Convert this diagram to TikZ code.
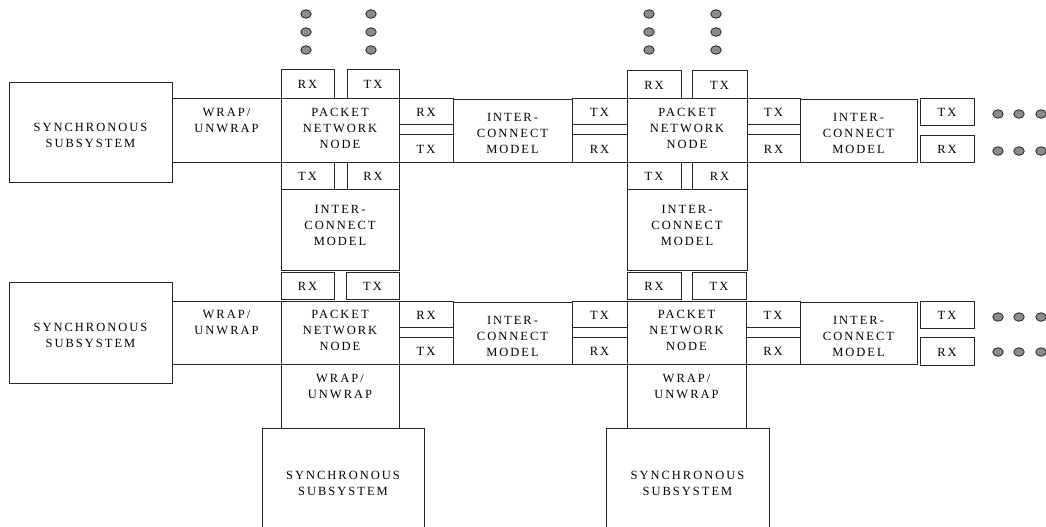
\documentclass[tikz,border=0pt]{standalone}
\usepackage{fontspec}
\setmainfont{Liberation Serif}[LetterSpace=16]
\usetikzlibrary{fit,calc,shapes.geometric}
\newcommand\bx[7]{%
  \node[box, fit={(#2,#3) (#4,#5)}] (#1) {};
  \node[lbl] (#1t) at ($(#1.center)+(0,#7)$) {#6};}
\begin{document}
\begin{tikzpicture}[x=1pt,y=-1pt,
  box/.style={draw=black!85, line width=0.9pt, inner sep=0pt},
  lbl/.style={align=center, inner sep=0pt, text=black,
    font=\fontsize{12.5}{16}\selectfont},
  dot/.style={ellipse, draw=black!85, fill=black!45, line width=0.8pt,
    minimum width=10.5pt, minimum height=8.5pt, inner sep=0pt}]
\useasboundingbox (0,0) rectangle (1046,527);
% ---------- row 1 ----------
\bx{syncA}{9}{82}{172}{182}{SYNCHRONOUS\\SUBSYSTEM}{3}
\bx{wrapA}{172}{98}{281}{162}{WRAP/\\UNWRAP}{-10}
\bx{pnA}{281}{98}{399}{162}{PACKET\\NETWORK\\NODE}{-2}
\bx{rxtA}{281}{69}{334}{98}{RX}{1}
\bx{txtA}{347}{69}{399}{98}{TX}{1}
\bx{txbA}{281}{162}{334}{189}{TX}{1}
\bx{rxbA}{347}{162}{399}{189}{RX}{1}
\bx{icvA}{281}{189}{399}{270}{INTER-\\CONNECT\\MODEL}{-4.5}
\bx{rxrA}{399}{98}{453}{124}{RX}{1}
\bx{txrA}{399}{134}{453}{162}{TX}{1}
\bx{ichA}{453}{99}{572}{162}{INTER-\\CONNECT\\MODEL}{3}
\bx{txlB}{572}{98}{627}{124}{TX}{1}
\bx{rxlB}{572}{134}{627}{162}{RX}{1}
\bx{pnB}{627}{98}{747}{162}{PACKET\\NETWORK\\NODE}{-2}
\bx{rxtB}{627}{70}{681}{98}{RX}{1}
\bx{txtB}{692}{70}{747}{98}{TX}{1}
\bx{txbB}{627}{162}{681}{189}{TX}{1}
\bx{rxbB}{692}{162}{747}{189}{RX}{1}
\bx{icvB}{627}{189}{747}{270}{INTER-\\CONNECT\\MODEL}{-4.5}
\bx{txrB}{747}{98}{800}{124}{TX}{1}
\bx{rxrB}{747}{134}{800}{162}{RX}{1}
\bx{ichB}{800}{99}{917}{162}{INTER-\\CONNECT\\MODEL}{3}
\bx{txfB}{920}{98}{974}{125}{TX}{1}
\bx{rxfB}{920}{135}{974}{162}{RX}{1}
% ---------- row 2 ----------
\bx{syncC}{9}{282}{172}{383}{SYNCHRONOUS\\SUBSYSTEM}{3}
\bx{wrapC}{172}{301}{281}{364}{WRAP/\\UNWRAP}{-10}
\bx{pnC}{281}{301}{399}{364}{PACKET\\NETWORK\\NODE}{-2}
\bx{rxtC}{281}{272}{334}{299}{RX}{1}
\bx{txtC}{346}{272}{399}{299}{TX}{1}
\bx{rxrC}{399}{301}{453}{327}{RX}{1}
\bx{txrC}{399}{337}{453}{364}{TX}{1}
\bx{ichC}{453}{302}{572}{364}{INTER-\\CONNECT\\MODEL}{3}
\bx{txlD}{572}{301}{627}{327}{TX}{1}
\bx{rxlD}{572}{337}{627}{364}{RX}{1}
\bx{pnD}{627}{301}{746}{364}{PACKET\\NETWORK\\NODE}{-2}
\bx{rxtD}{627}{272}{681}{299}{RX}{1}
\bx{txtD}{692}{272}{746}{299}{TX}{1}
\bx{txrD}{746}{301}{800}{327}{TX}{1}
\bx{rxrD}{746}{337}{800}{364}{RX}{1}
\bx{ichD}{800}{302}{917}{364}{INTER-\\CONNECT\\MODEL}{3}
\bx{txfD}{920}{301}{974}{328}{TX}{1}
\bx{rxfD}{920}{337}{974}{365}{RX}{1}
\bx{wrapE}{281}{364}{399}{428}{WRAP/\\UNWRAP}{-10}
\bx{wrapF}{627}{364}{746}{428}{WRAP/\\UNWRAP}{-10}
\bx{syncE}{262}{428}{424}{532}{SYNCHRONOUS\\SUBSYSTEM}{3}
\bx{syncF}{606}{428}{769}{532}{SYNCHRONOUS\\SUBSYSTEM}{3}
% ---------- continuation dots ----------
\foreach \x/\n in {306/a,371/b,649/c,716/d}
  \foreach \y/\m in {14/1,32/2,50/3}
    \node[dot] (v\n\m) at (\x,\y) {};
\foreach \x/\n in {998/a,1019/b,1041/c}{
  \node[dot] (hA\n) at (\x,114) {};
  \node[dot] (hB\n) at (\x,151) {};
  \node[dot] (hC\n) at (\x,317) {};
  \node[dot] (hD\n) at (\x,352) {};}
\end{tikzpicture}
\end{document}
